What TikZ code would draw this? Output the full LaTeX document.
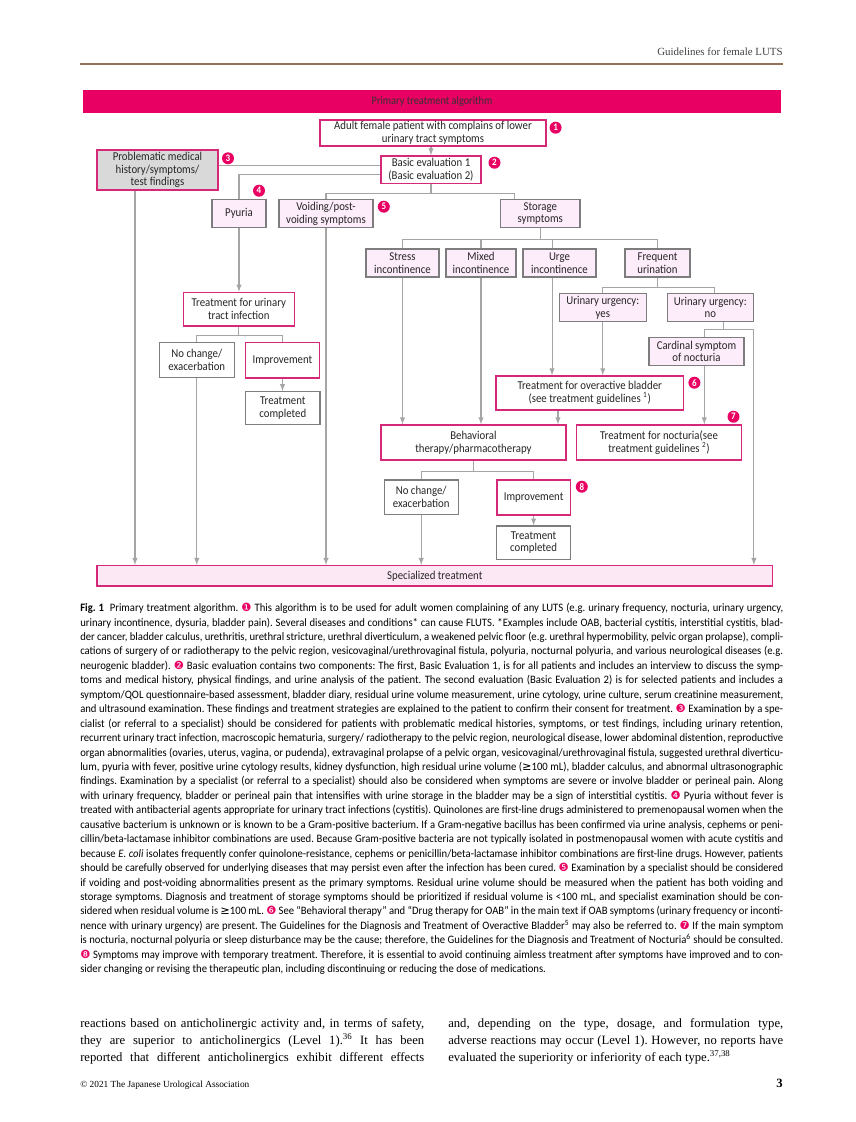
\documentclass[tikz,border=0pt]{standalone}
\usepackage{fontspec}
\setmainfont{Liberation Serif}
\newfontfamily\chartfont[FakeStretch=0.9]{Carlito}
\newfontfamily\capfont[FakeStretch=0.94]{Carlito}
\newfontfamily\symfont{DejaVu Sans}
\definecolor{bandpink}{RGB}{232,0,98}
\definecolor{boxpink}{RGB}{214,40,120}
\definecolor{lightpink}{RGB}{253,236,250}
\definecolor{speclight}{RGB}{252,232,245}
\definecolor{probgray}{RGB}{217,217,217}
\definecolor{boxgray}{RGB}{125,125,125}
\definecolor{linegray}{RGB}{165,165,165}
\definecolor{headbrown}{RGB}{150,112,88}
\newcommand{\cnum}[1]{{\symfont\color{bandpink}#1}}
\frenchspacing
\begin{document}
\begin{tikzpicture}[x=0.75pt,y=-0.75pt,
    chartbox/.style={draw,align=center,inner sep=1pt,text=black!85,font=\chartfont\fontsize{9}{9.6}\selectfont},
    pinkbox/.style={chartbox,draw=boxpink,line width=1.1pt,fill=white},
    graybox/.style={chartbox,draw=boxgray,line width=0.9pt,fill=white},
    lightbox/.style={chartbox,draw=boxgray,line width=0.9pt,fill=lightpink},
    wh/.style 2 args={minimum width=#1*0.75pt,minimum height=#2*0.75pt},
    conn/.style={draw=linegray,line width=0.8pt},
    connarr/.style={conn,-latex},
    badge/.style={circle,fill=bandpink,text=white,inner sep=0pt,minimum size=9pt,font=\chartfont\bfseries\fontsize{7.5}{7.5}\selectfont}]
    \useasboundingbox (0,0) rectangle (856,1122);
    % running head
    \node [anchor=base east,inner sep=0pt,text=black!75,font=\fontsize{8.2}{10}\selectfont] (head) at (783,55) {Guidelines for female LUTS};
    \draw [headbrown,line width=1.6pt] (80,64) -- (783,64);
    % title band
    \node [fill=bandpink,wh={698}{23},inner sep=0pt,text=black!80,font=\chartfont\fontsize{8.6}{9}\selectfont] (band) at (432,101.5) {Primary treatment algorithm};
    % boxes
    \node [pinkbox,wh={226}{26}] (patient) at (433,133) {Adult female patient with complains of lower\\urinary tract symptoms};
    \node [pinkbox,fill=probgray,wh={121}{40}] (problem) at (157.5,170) {Problematic medical\\history/symptoms/\\test findings};
    \node [pinkbox,wh={100}{27.5}] (eval) at (431,169.75) {Basic evaluation 1\\(Basic evaluation 2)};
    \node [lightbox,wh={54}{28}] (pyuria) at (239,213.5) {Pyuria};
    \node [lightbox,wh={94}{28}] (voiding) at (326,213.5) {Voiding/post-\\voiding symptoms};
    \node [lightbox,wh={79.5}{28}] (storage) at (540.25,213.5) {Storage\\symptoms};
    \node [lightbox,wh={73}{28}] (stress) at (402.5,263) {Stress\\incontinence};
    \node [lightbox,wh={70}{28}] (mixed) at (481,263) {Mixed\\incontinence};
    \node [lightbox,wh={73}{28}] (urge) at (559.5,263) {Urge\\incontinence};
    \node [lightbox,wh={65}{28}] (frequent) at (657.5,263) {Frequent\\urination};
    \node [lightbox,wh={87}{28.4}] (yes) at (602.8,307.5) {Urinary urgency:\\yes};
    \node [lightbox,wh={86}{28.4}] (no) at (710.3,307.5) {Urinary urgency:\\no};
    \node [lightbox,wh={95}{28}] (cardinal) at (696.5,351.3) {Cardinal symptom\\of nocturia};
    \node [pinkbox,wh={111}{33.7}] (uti) at (238.8,309.2) {Treatment for urinary\\tract infection};
    \node [graybox,wh={75}{34.6}] (nochangeL) at (196.8,360) {No change/\\exacerbation};
    \node [pinkbox,wh={73.6}{35.7}] (improveL) at (282.5,360.2) {Improvement};
    \node [graybox,wh={74.3}{33}] (doneL) at (282.8,408.2) {Treatment\\completed};
    \node [pinkbox,wh={187.4}{34}] (oab) at (589.7,393) {Treatment for overactive bladder\\(see treatment guidelines \textsuperscript{1})};
    \node [pinkbox,wh={184.8}{35}] (behav) at (473.4,442.5) {Behavioral\\therapy/pharmacotherapy};
    \node [pinkbox,wh={165.5}{35}] (noct) at (659,442.5) {Treatment for nocturia(see\\treatment guidelines \textsuperscript{2})};
    \node [graybox,wh={74}{34.3}] (nochangeR) at (421.2,497.2) {No change/\\exacerbation};
    \node [pinkbox,wh={73.6}{35}] (improveR) at (533.6,497.5) {Improvement};
    \node [graybox,wh={73.6}{33.3}] (doneR) at (533.6,542.7) {Treatment\\completed};
    \node [pinkbox,fill=speclight,wh={675.6}{20.3}] (special) at (434.8,575.8) {Specialized treatment};
    % numbered marks
    \node [badge] (badge1) at (555.6,127.7) {1};
    \node [badge] (badge2) at (494.5,162.7) {2};
    \node [badge] (badge3) at (228,158.3) {3};
    \node [badge] (badge4) at (259,190.7) {4};
    \node [badge] (badge5) at (383.8,206.7) {5};
    \node [badge] (badge6) at (694.4,382.7) {6};
    \node [badge] (badge7) at (733.5,416.7) {7};
    \node [badge] (badge8) at (581.8,486.7) {8};
    % first evaluation
    \draw [connarr] (eval.north |- patient.south) -- (eval.north);
    \coordinate (e1) at ([yshift=2.85pt]eval.west);
    \draw [conn] (e1) -- (e1 -| problem.east);
    \coordinate (e2) at ([yshift=-3.9pt]eval.west);
    \draw [conn] (e2) -| (pyuria.north);
    \coordinate (e3) at ([yshift=-6.9pt]eval.south);
    \coordinate (s0) at ([xshift=-19.5pt]storage.north);
    \draw [conn] (eval.south) -- (e3) -| (voiding.north);
    \draw [conn] (e3) -| (s0);
    \coordinate (p0) at ([xshift=-16.9pt]problem.south);
    \draw [connarr] (p0) -- (p0 |- special.north);
    \draw [connarr] (voiding.south) -- (voiding.south |- special.north);
    \draw [connarr] (pyuria.south) -- (pyuria.south |- uti.north);
    % storage symptoms
    \coordinate (s1) at ([yshift=-8.85pt]storage.south);
    \coordinate (u0) at ([xshift=-5.6pt]urge.north);
    \draw [conn] (storage.south) -- (s1);
    \draw [conn] (s1) -| (stress.north);
    \draw [conn] (s1) -| (mixed.north);
    \draw [conn] (s1) -| (u0);
    \draw [conn] (s1) -| (frequent.north);
    \draw [connarr] (stress.south) -- (stress.south |- behav.north);
    \draw [connarr] (mixed.south) -- (mixed.south |- behav.north);
    \coordinate (u1) at ([xshift=-5.6pt]urge.south);
    \draw [connarr] (u1) -- (u1 |- oab.north);
    \coordinate (o1) at ([xshift=-23.8pt]oab.south);
    \draw [connarr] (o1) -- (o1 |- behav.north);
    % frequent urination
    \coordinate (f1) at ([yshift=-7.3pt]frequent.south);
    \coordinate (n0) at ([xshift=3pt]no.north);
    \draw [conn] (frequent.south) -- (f1);
    \draw [conn] (f1) -| (yes.north);
    \draw [conn] (f1) -| (n0);
    \draw [connarr] (yes.south) -- (yes.south |- oab.north);
    \coordinate (n1) at ([xshift=9.75pt]no.south);
    \coordinate (n2) at ([yshift=-5.5pt]n1);
    \coordinate (n3) at (n2 -| no.east);
    \coordinate (c0) at ([xshift=5.85pt]cardinal.north);
    \draw [conn] (n1) -- (n2) -| (c0);
    \draw [conn] (n2) -- (n3);
    \draw [connarr] (n3) -- (n3 |- special.north);
    \coordinate (c1) at ([xshift=5.85pt]cardinal.south);
    \draw [connarr] (c1) -- (c1 |- noct.north);
    % urinary tract infection
    \coordinate (t1) at ([yshift=-6.75pt]uti.south);
    \draw [conn] (uti.south) -- (t1);
    \draw [conn] (t1) -| (nochangeL.north);
    \draw [conn] (t1) -| (improveL.north);
    \draw [connarr] (nochangeL.south) -- (nochangeL.south |- special.north);
    \draw [connarr] (improveL.south) -- (improveL.south |- doneL.north);
    % behavioral therapy
    \coordinate (h1) at ([yshift=-8pt]behav.south);
    \draw [conn] (behav.south) -- (h1);
    \draw [conn] (h1) -| (nochangeR.north);
    \draw [conn] (h1) -| (improveR.north);
    \draw [connarr] (nochangeR.south) -- (nochangeR.south |- special.north);
    \draw [connarr] (improveR.south) -- (improveR.south |- doneR.north);
    % caption
    \node [anchor=north west,inner sep=0pt,text width=527.25pt,align=justify,font=\capfont\fontsize{8.5}{10.83}\selectfont] (caption) at (80,603) {\hyphenpenalty=10000\exhyphenpenalty=10000
      \textbf{Fig.~1}\enspace Primary treatment algorithm. \cnum{❶} This algorithm is to be used for adult women complaining of any LUTS (e.g. urinary frequency, nocturia, urinary urgency,\linebreak
      urinary incontinence, dysuria, bladder pain). Several diseases and conditions* can cause FLUTS. *Examples include OAB, bacterial cystitis, interstitial cystitis, blad-\linebreak
      der cancer, bladder calculus, urethritis, urethral stricture, urethral diverticulum, a weakened pelvic floor (e.g. urethral hypermobility, pelvic organ prolapse), compli-\linebreak
      cations of surgery of or radiotherapy to the pelvic region, vesicovaginal/urethrovaginal fistula, polyuria, nocturnal polyuria, and various neurological diseases (e.g.\linebreak
      neurogenic bladder). \cnum{❷} Basic evaluation contains two components: The first, Basic Evaluation 1, is for all patients and includes an interview to discuss the symp-\linebreak
      toms and medical history, physical findings, and urine analysis of the patient. The second evaluation (Basic Evaluation 2) is for selected patients and includes a\linebreak
      symptom/QOL questionnaire-based assessment, bladder diary, residual urine volume measurement, urine cytology, urine culture, serum creatinine measurement,\linebreak
      and ultrasound examination. These findings and treatment strategies are explained to the patient to confirm their consent for treatment. \cnum{❸} Examination by a spe-\linebreak
      cialist (or referral to a specialist) should be considered for patients with problematic medical histories, symptoms, or test findings, including urinary retention,\linebreak
      recurrent urinary tract infection, macroscopic hematuria, surgery/ radiotherapy to the pelvic region, neurological disease, lower abdominal distention, reproductive\linebreak
      organ abnormalities (ovaries, uterus, vagina, or pudenda), extravaginal prolapse of a pelvic organ, vesicovaginal/urethrovaginal fistula, suggested urethral diverticu-\linebreak
      lum, pyuria with fever, positive urine cytology results, kidney dysfunction, high residual urine volume ({\symfont ≥}100 mL), bladder calculus, and abnormal ultrasonographic\linebreak
      findings. Examination by a specialist (or referral to a specialist) should also be considered when symptoms are severe or involve bladder or perineal pain. Along\linebreak
      with urinary frequency, bladder or perineal pain that intensifies with urine storage in the bladder may be a sign of interstitial cystitis. \cnum{❹} Pyuria without fever is\linebreak
      treated with antibacterial agents appropriate for urinary tract infections (cystitis). Quinolones are first-line drugs administered to premenopausal women when the\linebreak
      causative bacterium is unknown or is known to be a Gram-positive bacterium. If a Gram-negative bacillus has been confirmed via urine analysis, cephems or peni-\linebreak
      cillin/beta-lactamase inhibitor combinations are used. Because Gram-positive bacteria are not typically isolated in postmenopausal women with acute cystitis and\linebreak
      because \emph{E. coli} isolates frequently confer quinolone-resistance, cephems or penicillin/beta-lactamase inhibitor combinations are first-line drugs. However, patients\linebreak
      should be carefully observed for underlying diseases that may persist even after the infection has been cured. \cnum{❺} Examination by a specialist should be considered\linebreak
      if voiding and post-voiding abnormalities present as the primary symptoms. Residual urine volume should be measured when the patient has both voiding and\linebreak
      storage symptoms. Diagnosis and treatment of storage symptoms should be prioritized if residual volume is <100 mL, and specialist examination should be con-\linebreak
      sidered when residual volume is {\symfont ≥}100 mL. \cnum{❻} See “Behavioral therapy” and “Drug therapy for OAB” in the main text if OAB symptoms (urinary frequency or inconti-\linebreak
      nence with urinary urgency) are present. The Guidelines for the Diagnosis and Treatment of Overactive Bladder\textsuperscript{5} may also be referred to. \cnum{❼} If the main symptom\linebreak
      is nocturia, nocturnal polyuria or sleep disturbance may be the cause; therefore, the Guidelines for the Diagnosis and Treatment of Nocturia\textsuperscript{6} should be consulted.\linebreak
      \cnum{❽} Symptoms may improve with temporary treatment. Therefore, it is essential to avoid continuing aimless treatment after symptoms have improved and to con-\linebreak
      sider changing or revising the therapeutic plan, including discontinuing or reducing the dose of medications.};
    % body text
    \node [anchor=north west,inner sep=0pt,text width=258pt,align=justify,font=\fontsize{9.5}{12.75}\selectfont] (colL) at (80,1018) {%
      reactions based on anticholinergic activity and, in terms of safety,\linebreak
      they are superior to anticholinergics (Level 1).\textsuperscript{36} It has been\linebreak
      reported that different anticholinergics exhibit different effects\linebreak\null};
    \node [anchor=north west,inner sep=0pt,text width=251.25pt,align=justify,font=\fontsize{9.5}{12.75}\selectfont] (colR) at (448,1018) {%
      and, depending on the type, dosage, and formulation type,\linebreak
      adverse reactions may occur (Level 1). However, no reports have\linebreak
      evaluated the superiority or inferiority of each type.\textsuperscript{37,38}};
    % footer
    \node [anchor=base west,inner sep=0pt,font=\fontsize{7}{8}\selectfont] (foot) at (80,1087) {© 2021 The Japanese Urological Association};
    \node [anchor=base east,inner sep=0pt,font=\bfseries\fontsize{9.5}{10}\selectfont] (page) at (783,1087) {3};
\end{tikzpicture}
\end{document}
